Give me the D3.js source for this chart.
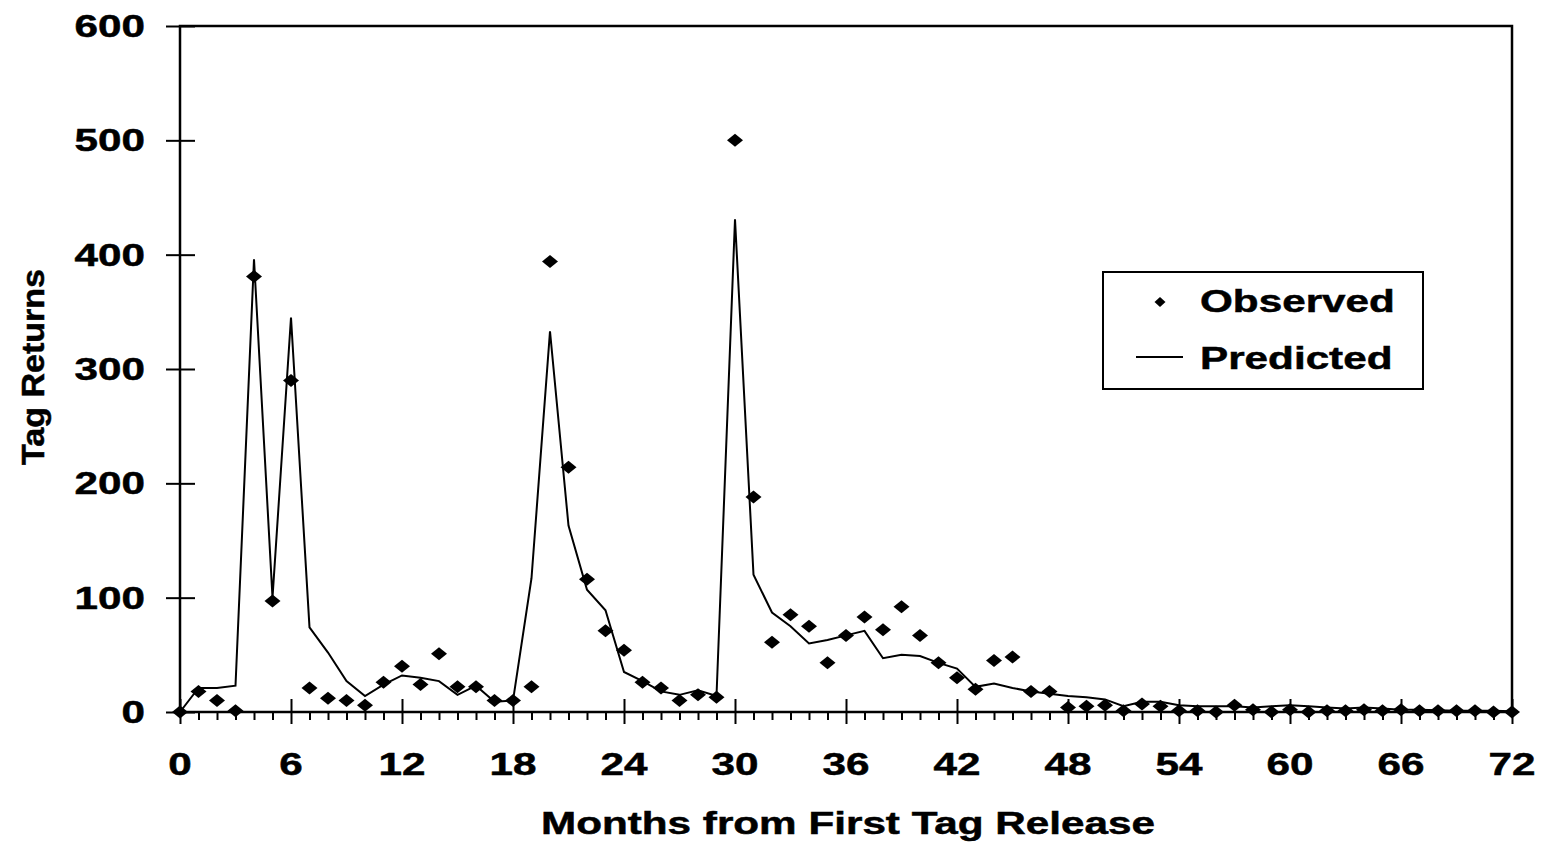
<!DOCTYPE html>
<html>
<head>
<meta charset="utf-8">
<script src="https://cdn.jsdelivr.net/npm/d3@7"></script>
<style>
    body { margin: 0; background: #fff; }
    svg { display: block; }
    text { font-family: "Liberation Sans", Arial, sans-serif; font-weight: bold; fill: #000; stroke: #000; stroke-width: 0.5px; }
</style>
</head>
<body>
<div id="chart"></div>
<script>
// Données
const months = d3.range(0, 73);
const observed = [
    0, 18, 10, 1, 381, 97, 290, 21, 12, 10,
    6, 26, 40, 24, 51, 22, 22, 10, 10, 22,
    394, 214, 116, 71, 54, 26, 21, 10, 15, 13,
    500, 188, 61, 85, 75, 43, 67, 83, 72, 92,
    67, 43, 30, 20, 45, 48, 18, 18, 4, 5,
    6, 1, 7, 5, 1, 1, 0, 6, 2, 0,
    2, 0, 1, 1, 2, 1, 2, 1, 1, 1,
    1, 0, 0
];
const predicted = [
    0, 21, 21, 23, 396, 100, 345, 74, 52, 27,
    14, 24, 32, 30, 27, 15, 23, 9, 10, 117,
    333, 163, 107, 89, 35, 27, 18, 15, 19, 14,
    431, 120, 87, 75, 60, 63, 67, 71, 47, 50,
    49, 43, 38, 22, 25, 21, 18, 16, 14, 13,
    11, 5, 9, 9, 6, 5, 5, 5, 4, 5,
    6, 5, 4, 3, 4, 3, 2, 2, 1.5, 1,
    1, 1, 0.6
];
const yTicks = [0, 100, 200, 300, 400, 500, 600];
const xTicks = [0, 6, 12, 18, 24, 30, 36, 42, 48, 54, 60, 66, 72];
const seriesNames = ['Observed', 'Predicted'];

const width = 1541;
const height = 843;
const plot = { left: 180, right: 1512, top: 26, bottom: 712 };
const SX = 1.32;       // texte étiré horizontalement comme l'original
const FONT = 32;

const svg = d3.select('#chart')
    .append('svg')
    .attr('width', width)
    .attr('height', height);

const x = d3.scaleLinear().domain([0, 72]).range([plot.left, plot.right]);
const y = d3.scaleLinear().domain([0, 600]).range([plot.bottom, plot.top]);

function stretchedText(g, tx, ty, str, anchor, size) {
    return g.append('text')
        .attr('transform', `translate(${tx},${ty}) scale(${SX},1)`)
        .attr('text-anchor', anchor)
        .style('font-size', (size || FONT) + 'px')
        .text(str);
}

// Cadre de la zone de tracé
svg.append('rect')
    .attr('x', plot.left)
    .attr('y', plot.top)
    .attr('width', plot.right - plot.left)
    .attr('height', plot.bottom - plot.top)
    .attr('fill', 'none')
    .attr('stroke', '#000')
    .attr('stroke-width', 2.5);

// Axe Y
const yAxis = svg.append('g')
    .attr('transform', `translate(${plot.left},0)`)
    .call(d3.axisLeft(y).tickValues(yTicks).tickSize(14).tickFormat(''));
yAxis.select('.domain').remove();
yAxis.selectAll('.tick line')
    .attr('x1', 15)
    .attr('stroke', '#000')
    .attr('stroke-width', 2);

yTicks.forEach(v => {
    stretchedText(svg, 145, y(v) + 11, String(v), 'end');
});

// Axe X
const xAxis = svg.append('g')
    .attr('transform', `translate(0,${plot.bottom})`)
    .call(d3.axisBottom(x).tickValues(months).tickSize(8).tickFormat(''));
xAxis.select('.domain').remove();
xAxis.selectAll('.tick line')
    .attr('stroke', '#000')
    .attr('stroke-width', 2)
    .attr('y1', d => xTicks.includes(d) ? -13 : 0)
    .attr('y2', d => xTicks.includes(d) ? 12 : 8);

xTicks.forEach(m => {
    stretchedText(svg, x(m), 775, String(m), 'middle');
});

// Titres des axes
stretchedText(svg, 848, 834, 'Months from First Tag Release', 'middle');

svg.append('text')
    .attr('transform', 'translate(44,367) rotate(-90)')
    .attr('text-anchor', 'middle')
    .attr('textLength', 196)
    .attr('lengthAdjust', 'spacingAndGlyphs')
    .style('font-size', '31px')
    .text('Tag Returns');

// Ligne prédite
const line = d3.line()
    .x((d, i) => x(months[i]))
    .y(d => y(d));

svg.append('path')
    .datum(predicted)
    .attr('d', line)
    .attr('fill', 'none')
    .attr('stroke', '#000')
    .attr('stroke-width', 2)
    .attr('stroke-linejoin', 'miter');

// Points observés (losanges)
const diamond = (w, h) => `M0,${-h} L${w},0 L0,${h} L${-w},0 Z`;

svg.append('g')
    .selectAll('path')
    .data(observed)
    .enter()
    .append('path')
    .attr('transform', (d, i) => `translate(${x(months[i])},${y(d)})`)
    .attr('d', diamond(8, 6.5))
    .attr('fill', '#000');

// Légende
const legend = svg.append('g');
legend.append('rect')
    .attr('x', 1103)
    .attr('y', 272)
    .attr('width', 320)
    .attr('height', 117)
    .attr('fill', '#fff')
    .attr('stroke', '#000')
    .attr('stroke-width', 2);

legend.append('path')
    .attr('transform', 'translate(1160,302)')
    .attr('d', diamond(5.5, 5))
    .attr('fill', '#000');
stretchedText(legend, 1200, 312, seriesNames[0], 'start');

legend.append('line')
    .attr('x1', 1136)
    .attr('x2', 1183)
    .attr('y1', 357)
    .attr('y2', 357)
    .attr('stroke', '#000')
    .attr('stroke-width', 2);
stretchedText(legend, 1200, 369, seriesNames[1], 'start');
</script>
</body>
</html>
